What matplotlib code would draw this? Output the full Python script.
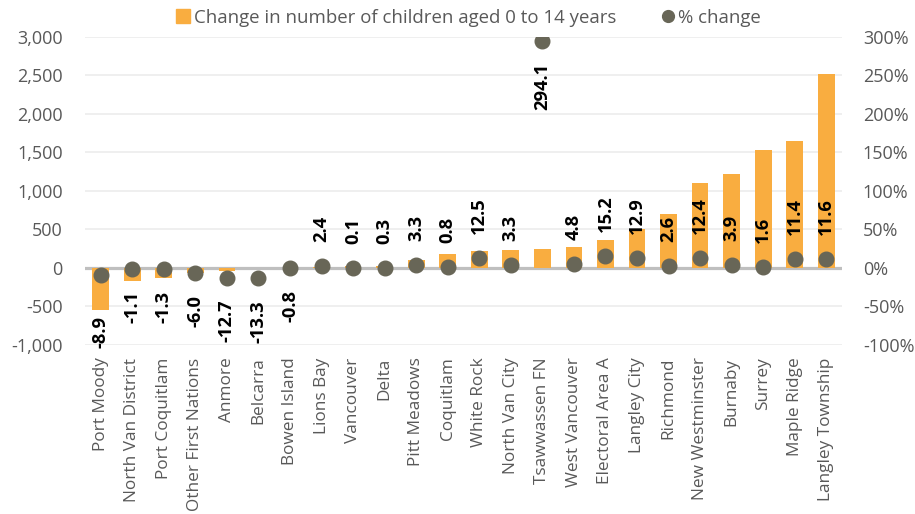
import matplotlib
matplotlib.use("Agg")
import matplotlib.pyplot as plt
from matplotlib.lines import Line2D
from matplotlib.ticker import FuncFormatter
import numpy as np

plt.rcParams['font.family'] = ['Open Sans', 'DejaVu Sans']

categories = ["Port Moody", "North Van District", "Port Coquitlam", "Other First Nations",
              "Anmore", "Belcarra", "Bowen Island", "Lions Bay", "Vancouver", "Delta",
              "Pitt Meadows", "Coquitlam", "White Rock", "North Van City", "Tsawwassen FN",
              "West Vancouver", "Electoral Area A", "Langley City", "Richmond",
              "New Westminster", "Burnaby", "Surrey", "Maple Ridge", "Langley Township"]
change = [-545, -170, -125, -60, -45, -5, -5, 5, 30, 30, 104, 182, 225, 234, 247,
          277, 360, 506, 697, 1100, 1221, 1523, 1649, 2515]
pct_change = [-8.9, -1.1, -1.3, -6.0, -12.7, -13.3, -0.8, 2.4, 0.1, 0.3, 3.3, 0.8,
              12.5, 3.3, 294.1, 4.8, 15.2, 12.9, 2.6, 12.4, 3.9, 1.6, 11.4, 11.6]
left_ticks = [-1000, -500, 0, 500, 1000, 1500, 2000, 2500, 3000]
right_ticks = [-100, -50, 0, 50, 100, 150, 200, 250, 300]

bar_color = "#F9AD40"
dot_color = "#686657"
text_gray = "#595959"

W, H = 915, 514
fig = plt.figure(figsize=(W / 100, H / 100), dpi=100)
ax = fig.add_axes([85 / W, 1 - 345 / H, (842 - 85) / W, (345 - 36.5) / H])
ax2 = ax.twinx()

x = np.arange(len(categories))
ax.bar(x, change, width=0.53, color=bar_color, zorder=2)
ax.set_xlim(-0.5, len(categories) - 0.5)
ax.set_ylim(-1000, 3000)
ax.set_yticks(left_ticks)
ax.yaxis.set_major_formatter(FuncFormatter(lambda v, p: f"{v:,.0f}"))
ax.grid(axis='y', color="#EBEBEB", linewidth=1.1, zorder=0)
ax.set_axisbelow(True)
ax.axhline(0, color="#BFBFBF", linewidth=2.3, zorder=1.5)
ax.set_xticks(x)
ax.set_xticklabels(categories, rotation=90, fontsize=12.4, color=text_gray)
ax.tick_params(axis='x', length=0, pad=9)
ax.tick_params(axis='y', length=0, pad=16, labelsize=13, labelcolor=text_gray)

ax2.plot(x, pct_change, linestyle='none', marker='o', markersize=10.5,
         color=dot_color, zorder=3)
ax2.set_ylim(-100, 300)
ax2.set_yticks(right_ticks)
ax2.yaxis.set_major_formatter(FuncFormatter(lambda v, p: f"{v:.0f}%"))
ax2.tick_params(axis='y', length=0, pad=15, labelsize=13, labelcolor=text_gray)

for a in (ax, ax2):
    for s in a.spines.values():
        s.set_visible(False)

# data labels
for i, (b, p) in enumerate(zip(change, pct_change)):
    dot_y = ax2.transData.transform((i, p))[1]
    bar_y = ax.transData.transform((i, b))[1]
    if p < 0 or p > 100:
        top = dot_y - 22
        if b < 0:
            top = min(top, bar_y - 6)
        off = top - dot_y
        va = 'top'
    else:
        off = 24
        va = 'bottom'
    ax2.annotate(f"{p:.1f}", xy=(i, p), xytext=(0, off), textcoords='offset pixels',
                 rotation=90, ha='center', va=va, fontsize=13.2, fontweight='bold',
                 color='black', zorder=4)

handles = [Line2D([], [], linestyle='none', marker='s', markersize=9.5, color=bar_color),
           Line2D([], [], linestyle='none', marker='o', markersize=8.5, color=dot_color)]
leg = fig.legend(handles, ["Change in number of children aged 0 to 14 years", "% change"],
                 loc='center', bbox_to_anchor=(0.513, 1 - 18 / H), ncol=2, frameon=False,
                 fontsize=13.4, handlelength=0.6, handletextpad=0.25, columnspacing=2.5,
                 borderpad=0)
for t in leg.get_texts():
    t.set_color(text_gray)

fig.savefig("out.png", dpi=100)
